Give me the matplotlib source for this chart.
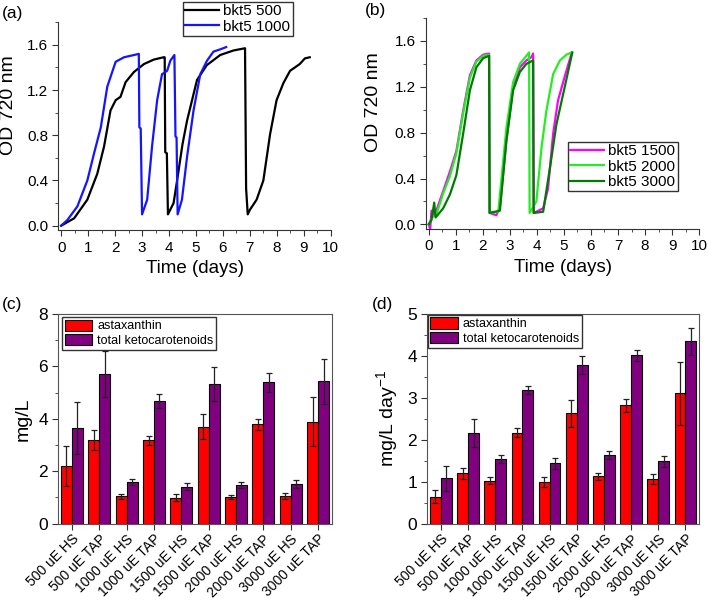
"""OD720 growth curves (a, b) and ketocarotenoid titers / productivities (c, d)."""
import numpy as np
import matplotlib
matplotlib.use("Agg")
import matplotlib.pyplot as plt
from matplotlib.ticker import MultipleLocator

plt.rcParams["font.family"] = ["Liberation Sans", "DejaVu Sans"]
plt.rcParams["mathtext.fontset"] = "custom"
plt.rcParams["mathtext.rm"] = "Liberation Sans"
plt.rcParams["mathtext.it"] = "Liberation Sans:italic"

# ---- growth curves, panel (a) ----
t500 = [0, 0.48, 0.97, 1.34, 1.59, 1.83, 2.02, 2.2, 2.39, 2.7, 3.07, 3.44, 3.8, 3.84,
        3.86, 3.92, 3.96, 4.17, 4.3, 4.5, 4.67, 5.04, 5.4, 5.9, 6.39, 6.82, 6.86,
        6.92, 7.0, 7.25, 7.5, 7.75, 7.99, 8.24, 8.49, 8.85, 9.04, 9.22]
od500 = [0, 0.065, 0.23, 0.46, 0.70, 1.02, 1.11, 1.14, 1.27, 1.36, 1.43, 1.47, 1.49, 1.49,
         0.65, 0.64, 0.10, 0.20, 0.40, 0.72, 0.93, 1.29, 1.42, 1.51, 1.55, 1.57, 0.33,
         0.10, 0.14, 0.23, 0.40, 0.81, 1.11, 1.26, 1.37, 1.43, 1.48, 1.49]
t1000 = [0, 0.23, 0.6, 0.97, 1.22, 1.47, 1.71, 2.02, 2.33, 2.7, 2.88, 2.9, 2.95, 3.0,
         3.19, 3.37, 3.56, 3.74, 3.93, 4.05, 4.2, 4.24, 4.28, 4.32, 4.48, 4.67, 4.91,
         5.16, 5.41, 5.65, 5.9, 6.12]
od1000 = [0, 0.05, 0.17, 0.40, 0.64, 0.87, 1.23, 1.45, 1.49, 1.51, 1.52, 0.87, 0.86, 0.10,
          0.23, 0.70, 1.11, 1.34, 1.37, 1.46, 1.51, 0.79, 0.78, 0.10, 0.23, 0.61, 1.02,
          1.34, 1.46, 1.54, 1.56, 1.58]

# ---- growth curves, panel (b) ----
t1500 = [0, 0.05, 0.1, 0.22, 0.53, 0.78, 1.02, 1.27, 1.52, 1.76, 2.01, 2.23, 2.25,
         2.5, 2.63, 2.87, 3.12, 3.37, 3.61, 3.8, 3.86, 3.88, 4.23, 4.41, 4.6, 4.78,
         5.03, 5.28]
od1500 = [0, -0.04, 0.12, 0.08, 0.29, 0.46, 0.64, 0.99, 1.30, 1.43, 1.48, 1.49, 0.10,
          0.08, 0.15, 0.73, 1.20, 1.37, 1.43, 1.46, 1.49, 0.10, 0.14, 0.31, 0.79, 1.08,
          1.29, 1.49]
t2000 = [0, 0.12, 0.3, 0.53, 0.78, 1.02, 1.27, 1.52, 1.76, 2.01, 2.23, 2.25, 2.57,
         2.87, 3.12, 3.37, 3.61, 3.71, 3.73, 3.98, 4.17, 4.35, 4.6, 4.85, 5.09, 5.28]
od2000 = [0, 0.06, 0.10, 0.27, 0.42, 0.62, 0.97, 1.28, 1.42, 1.47, 1.48, 0.10, 0.11,
          0.84, 1.24, 1.40, 1.47, 1.50, 0.10, 0.20, 0.67, 0.99, 1.31, 1.43, 1.48, 1.50]
t3000 = [0, 0.1, 0.2, 0.25, 0.53, 0.78, 1.02, 1.27, 1.52, 1.76, 2.01, 2.23, 2.25,
         2.63, 2.87, 3.12, 3.37, 3.61, 3.86, 3.88, 4.23, 4.48, 4.72, 5.03, 5.31]
od3000 = [0, 0.04, 0.19, 0.06, 0.14, 0.26, 0.43, 0.79, 1.17, 1.37, 1.45, 1.47, 0.10,
          0.12, 0.73, 1.17, 1.33, 1.40, 1.43, 0.10, 0.11, 0.49, 0.87, 1.20, 1.50]

# ---- bar charts ----
conds = ["500 uE HS", "500 uE TAP", "1000 uE HS", "1000 uE TAP", "1500 uE HS",
         "1500 uE TAP", "2000 uE HS", "2000 uE TAP", "3000 uE HS", "3000 uE TAP"]
asta_c = [2.19, 3.19, 1.04, 3.18, 0.99, 3.70, 1.02, 3.79, 1.06, 3.89]
asta_c_err = [0.76, 0.37, 0.08, 0.17, 0.14, 0.48, 0.08, 0.20, 0.13, 0.94]
keto_c = [3.65, 5.71, 1.58, 4.68, 1.41, 5.33, 1.48, 5.39, 1.50, 5.43]
keto_c_err = [1.00, 0.89, 0.11, 0.28, 0.13, 0.66, 0.10, 0.36, 0.15, 0.87]
asta_d = [0.64, 1.20, 1.03, 2.17, 0.99, 2.63, 1.13, 2.82, 1.06, 3.11]
asta_d_err = [0.155, 0.135, 0.09, 0.10, 0.12, 0.33, 0.08, 0.15, 0.12, 0.75]
keto_d = [1.08, 2.16, 1.54, 3.19, 1.44, 3.79, 1.64, 4.02, 1.49, 4.35]
keto_d_err = [0.29, 0.33, 0.095, 0.09, 0.135, 0.21, 0.10, 0.13, 0.13, 0.32]

RED, PURPLE = "#ff0000", "#800080"
SPINE = "#333333"

fig = plt.figure(figsize=(7.09, 6.01), dpi=100)
axa = fig.add_axes([0.0825, 0.617, 0.384, 0.346])
axb = fig.add_axes([0.601, 0.619, 0.385, 0.351])
axc = fig.add_axes([0.0822, 0.1286, 0.3857, 0.349])
axd = fig.add_axes([0.6027, 0.1286, 0.3832, 0.349])


def style_line_ax(ax, ylab_x):
    for s in ["top", "right"]:
        ax.spines[s].set_visible(False)
    for s in ["left", "bottom"]:
        ax.spines[s].set_color(SPINE)
    ax.set_xlim(-0.1, 10)
    ax.set_ylim(-0.04, 1.8)
    ax.xaxis.set_major_locator(MultipleLocator(1))
    ax.xaxis.set_minor_locator(MultipleLocator(0.5))
    ax.set_yticks([0, 0.4, 0.8, 1.2, 1.6])
    ax.yaxis.set_minor_locator(MultipleLocator(0.2))
    ax.tick_params(which="major", length=4, labelsize=11, color=SPINE)
    ax.tick_params(which="minor", length=2, color=SPINE)
    ax.set_xlabel("Time (days)", fontsize=13.5)
    ax.set_ylabel("OD 720 nm", fontsize=14)
    ax.yaxis.set_label_coords(ylab_x, 0.6)


axa.plot(t500, od500, color="black", lw=1.6, label="bkt5 500")
axa.plot(t1000, od1000, color="#1414ff", lw=1.6, label="bkt5 1000")
style_line_ax(axa, -0.152)
axa.legend(loc="upper left", bbox_to_anchor=(0.258, 0.997), bbox_transform=fig.transFigure,
           fontsize=11, frameon=True, fancybox=False, edgecolor="black", handlelength=2.2,
           borderpad=0.15, labelspacing=0.1, handletextpad=0.3, borderaxespad=0)

axb.plot(t1500, od1500, color="#ff00ff", lw=1.6, label="bkt5 1500")
axb.plot(t2000, od2000, color="#22ee22", lw=1.6, label="bkt5 2000")
axb.plot(t3000, od3000, color="#007a00", lw=1.6, label="bkt5 3000")
style_line_ax(axb, -0.161)
axb.legend(loc="upper left", bbox_to_anchor=(0.801, 0.764), bbox_transform=fig.transFigure,
           fontsize=11, frameon=True, fancybox=False, edgecolor="black", handlelength=2.2,
           borderpad=0.15, labelspacing=0.1, handletextpad=0.3, borderaxespad=0)


def bar_panel(ax, a, ae, k, ke, ymax, minor, ylabel, ylab_x, leg_xy):
    x = np.arange(len(conds))
    w = 0.4
    ekw = dict(ecolor="#222222", elinewidth=0.9, capsize=2.2, capthick=0.9)
    ax.bar(x - w / 2, a, w, yerr=ae, color=RED, edgecolor="black", linewidth=0.8,
           error_kw=ekw, label="astaxanthin")
    ax.bar(x + w / 2, k, w, yerr=ke, color=PURPLE, edgecolor="black", linewidth=0.8,
           error_kw=ekw, label="total ketocarotenoids")
    ax.set_xlim(-0.5, len(conds) - 0.5)
    ax.set_ylim(0, ymax)
    ax.set_xticks(x)
    ax.set_xticklabels(conds, rotation=45, ha="right", rotation_mode="anchor", fontsize=10)
    ax.yaxis.set_minor_locator(MultipleLocator(minor))
    ax.tick_params(which="major", length=4, labelsize=12.5, color=SPINE)
    ax.tick_params(axis="x", labelsize=10, pad=2)
    ax.tick_params(which="minor", length=2, color=SPINE)
    for s in ax.spines.values():
        s.set_color("#555555")
    ax.set_ylabel(ylabel, fontsize=14)
    ax.yaxis.set_label_coords(ylab_x, 0.5)
    ax.legend(loc="upper left", bbox_to_anchor=leg_xy, bbox_transform=fig.transFigure,
              fontsize=9, frameon=True, fancybox=False, edgecolor="black",
              handlelength=2.2, handleheight=1.0, borderpad=0.2, labelspacing=0.15,
              handletextpad=0.4, borderaxespad=0)


bar_panel(axc, asta_c, asta_c_err, keto_c, keto_c_err, 8, 1, "mg/L", -0.096,
          (0.0875, 0.4725))
bar_panel(axd, asta_d, asta_d_err, keto_d, keto_d_err, 5, 0.5,
          r"mg/L day$^{-1}$", -0.10, (0.6035, 0.476))

for lbl, xy in [("(a)", (0.002, 0.99)), ("(b)", (0.515, 0.995)),
                ("(c)", (0.002, 0.505)), ("(d)", (0.525, 0.505))]:
    fig.text(xy[0], xy[1], lbl, fontsize=12.5, ha="left", va="top")

fig.savefig("out.png", dpi=100)
